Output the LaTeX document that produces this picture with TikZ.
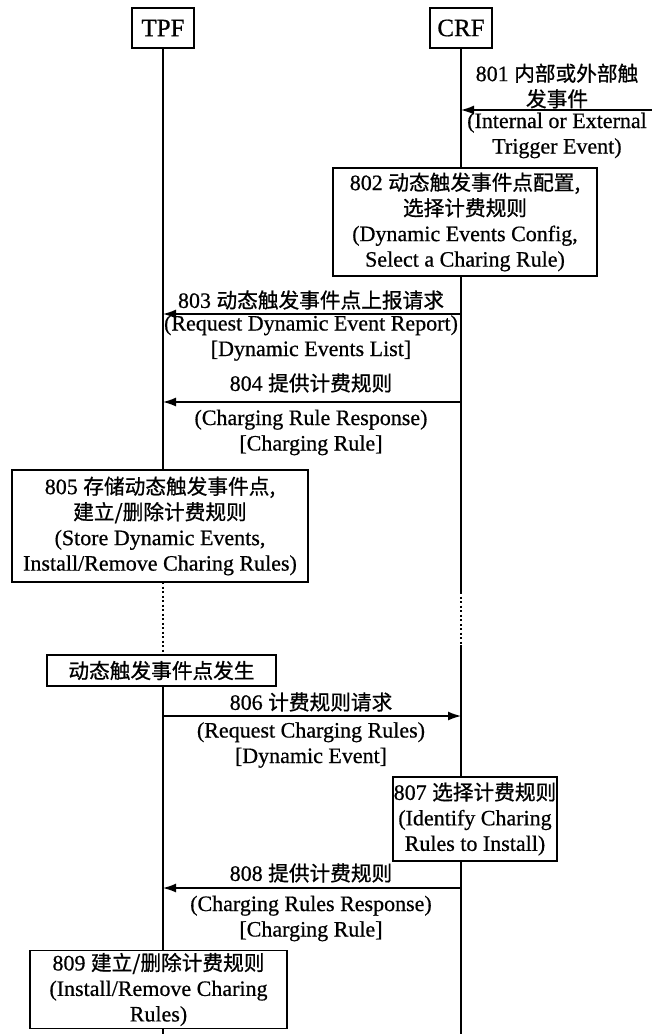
\documentclass[tikz,border=0pt]{standalone}
\usepackage{fontspec}
\setmainfont{Liberation Serif}[FakeBold=0.6]
\newfontfamily\cjk{Noto Sans CJK SC}[FakeBold=0.8,Scale=0.94]
\usetikzlibrary{arrows.meta}
\begin{document}
\begin{tikzpicture}[x=1pt,y=-1pt,
  font=\fontsize{22}{25.5}\selectfont,
  actor/.style={draw, line width=1.3pt, fill=white, minimum width=62pt, minimum height=40pt, inner sep=2pt, font=\fontsize{25}{28}\selectfont},
  pbox/.style={draw, line width=1.3pt, fill=white, align=center, inner sep=0pt},
  lbl/.style={align=center, inner sep=0pt},
  life/.style={line width=1.4pt},
  dotl/.style={line width=1.4pt, dash pattern=on 2pt off 2.5pt},
  msg/.style={line width=1.4pt, -{Latex[length=13pt,width=9pt]}}]
\useasboundingbox (0,0) rectangle (652,1034);
% actors
\node[actor] (tpf) at (163,28) {TPF};
\node[actor] (crf) at (461,28) {CRF};
\coordinate (bottom) at (0,1034);
\coordinate (ext) at (652,110);
% lifelines
\draw[life] (tpf.south) -- (tpf |- 0,582);
\draw[dotl] (tpf |- 0,582) -- (tpf |- 0,655);
\draw[life] (tpf |- 0,655) -- (tpf |- bottom);
\draw[life] (crf.south) -- (crf |- 0,592);
\draw[dotl] (crf |- 0,592) -- (crf |- 0,645);
\draw[life] (crf |- 0,645) -- (crf |- bottom);
% 801
\draw[msg] (ext) -- (crf |- ext);
\node[lbl] (t801a) at (557,86) {801 {\cjk 内部或外部触}\\{\cjk 发事件}};
\node[lbl] (t801b) at (557,135.5) {(Internal or External\\Trigger Event)};
% 802
\node[pbox, minimum width=264pt, minimum height=108pt] (b802) at (465,222)
  {802 {\cjk 动态触发事件点配置,}\\{\cjk 选择计费规则}\\(Dynamic Events Config,\\Select a Charing Rule)};
% 803
\draw[msg] (crf |- 0,314) -- (tpf |- 0,314);
\node[lbl] (t803a) at (311,300) {803 {\cjk 动态触发事件点上报请求}};
\node[lbl] (t803b) at (311,338) {(Request Dynamic Event Report)\\{}[Dynamic Events List]};
% 804
\draw[msg] (crf |- 0,402) -- (tpf |- 0,402);
\node[lbl] (t804a) at (311,383) {804 {\cjk 提供计费规则}};
\node[lbl] (t804b) at (311,432.5) {(Charging Rule Response)\\{}[Charging Rule]};
% 805
\node[pbox, minimum width=296pt, minimum height=112pt] (b805) at (160,526)
  {805 {\cjk 存储动态触发事件点,}\\{\cjk 建立/删除计费规则}\\(Store Dynamic Events,\\Install/Remove Charing Rules)};
% occurrence
\node[pbox, minimum width=229pt, minimum height=31pt] (bocc) at (161.5,670.5) {{\cjk 动态触发事件点发生}};
% 806
\draw[msg] (tpf |- 0,716) -- (crf |- 0,716);
\node[lbl] (t806a) at (311,702) {806 {\cjk 计费规则请求}};
\node[lbl] (t806b) at (311,745) {(Request Charging Rules)\\{}[Dynamic Event]};
% 807
\node[pbox, minimum width=164pt, minimum height=84pt] (b807) at (475,819)
  {807 {\cjk 选择计费规则}\\(Identify Charing\\Rules to Install)};
% 808
\draw[msg] (crf |- 0,888) -- (tpf |- 0,888);
\node[lbl] (t808a) at (311,873) {808 {\cjk 提供计费规则}};
\node[lbl] (t808b) at (311,918.5) {(Charging Rules Response)\\{}[Charging Rule]};
% 809
\node[pbox, minimum width=257pt, minimum height=78pt] (b809) at (158.5,989.5)
  {809 {\cjk 建立/删除计费规则}\\(Install/Remove Charing\\Rules)};
\end{tikzpicture}
\end{document}
